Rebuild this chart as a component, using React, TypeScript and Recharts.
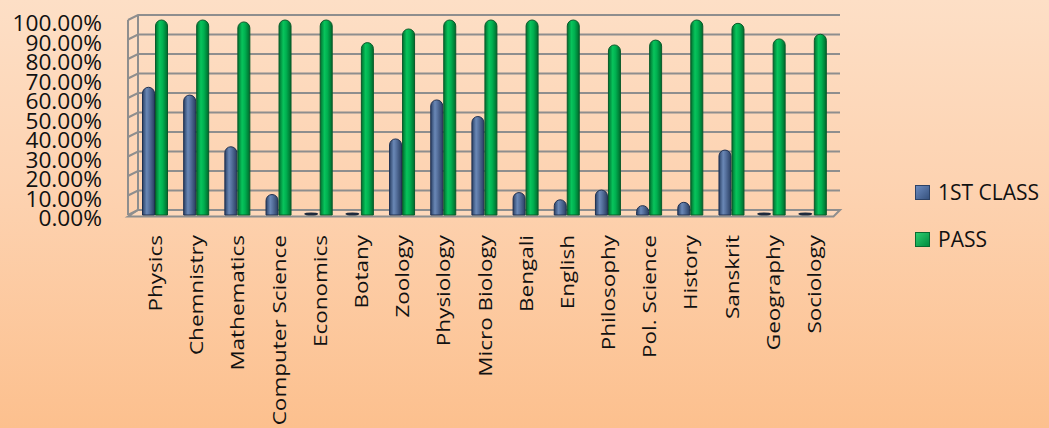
import React from 'react';
import { BarChart, Bar, XAxis, YAxis, CartesianGrid, Legend } from 'recharts';

const categories = ['Physics', 'Chemnistry', 'Mathematics', 'Computer Science', 'Economics', 'Botany', 'Zoology', 'Physiology', 'Micro Biology', 'Bengali', 'English', 'Philosophy', 'Pol. Science', 'History', 'Sanskrit', 'Geography', 'Sociology'];
const firstClass = [0.655, 0.615, 0.35, 0.105, 0, 0, 0.39, 0.59, 0.505, 0.115, 0.078, 0.128, 0.048, 0.065, 0.333, 0, 0];
const pass = [1.0, 1.0, 0.99, 1.0, 1.0, 0.884, 0.954, 1.0, 1.0, 1.0, 1.0, 0.872, 0.897, 1.0, 0.983, 0.903, 0.927];
const yTicks = [0, 0.1, 0.2, 0.3, 0.4, 0.5, 0.6, 0.7, 0.8, 0.9, 1.0];
const seriesNames = ['1ST CLASS', 'PASS'];

const data = categories.map((c, i) => ({ name: c, first: firstClass[i], pass: pass[i] }));

const W = 1049;
const H = 428;
const TOP = 20;
const BOTTOM = 215;
const LEFT = 134.5;
const RIGHT = 834.5;
const FONT = '"Open Sans", sans-serif';
const GRID = '#8e8e8e';

const Cylinder = (grad: string, stroke: string, zeroFill: string) => (props: any) => {
  const { x, y, width, height } = props;
  if (!(height > 0.8)) {
    return <ellipse cx={x + width / 2 - 2} cy={BOTTOM - 1} rx={width / 2 + 1} ry={1.6} fill={zeroFill} />;
  }
  const r = width / 2;
  const top = y;
  const h = height;
  const capH = Math.min(r, h);
  const d = `M${x},${top + capH} A${r},${capH} 0 0 1 ${x + width},${top + capH} L${x + width},${top + h} L${x},${top + h} Z`;
  return <path d={d} fill={`url(#${grad})`} stroke={stroke} strokeWidth={1} />;
};

const XTick = (props: any) => {
  const { x, payload } = props;
  return (
    <g transform={`translate(${x + 1},${235})`}>
      <text transform="rotate(-90) scale(1.25,1)" textAnchor="end" x={0} y={0} dy={6} fontFamily={FONT} fontSize={18} fill="#111">
        {payload.value}
      </text>
    </g>
  );
};

const YTick = (props: any) => {
  const { y, payload } = props;
  const v = (payload.value * 100).toFixed(2) + '%';
  return (
    <g transform={`translate(102,${y + 4})`}>
      <text transform="scale(1.08,1)" textAnchor="end" x={0} y={0} dy={7} fontFamily={FONT} fontSize={21} fill="#111">
        {v}
      </text>
    </g>
  );
};

const gridLine = (props: any) => {
  const { x1, x2, y1, index } = props;
  const yf = y1;
  const xl = x1 - 6.5;
  const xb = x1 + 3.5;
  const xr = x2 + 5.5;
  if (Math.abs(yf - BOTTOM) < 0.5) {
    return (
      <g key={`g-${index}`}>
        <path d={`M${xl},${BOTTOM} L${xb},${BOTTOM - 5} L${xb},${TOP - 5} M${xl},${BOTTOM} L${xl},${TOP}`} stroke={GRID} strokeWidth={2} fill="none" />
        <path d={`M${xl},${yf + 1.5} L${xb},${yf - 5} L${xr},${yf - 5} L${x2 - 1},${yf + 1.5} Z`} fill="rgba(255,255,255,0.18)" stroke={GRID} strokeWidth={2} />
      </g>
    );
  }
  return <path key={`g-${index}`} d={`M${xl},${yf} L${xb},${yf - 5} L${xr},${yf - 5}`} stroke={GRID} strokeWidth={2} fill="none" />;
};

const LegendContent = () => {
  const items = [
    { name: seriesNames[0], grad: 'legBlue', stroke: '#2c4266' },
    { name: seriesNames[1], grad: 'legGreen', stroke: '#0a6a30' },
  ];
  return (
    <div style={{ fontFamily: FONT, fontSize: 21, color: '#111' }}>
      {items.map((it, i) => (
        <div key={it.name} style={{ display: 'flex', alignItems: 'center', height: 24, marginBottom: i === 0 ? 23 : 0 }}>
          <svg width={15} height={15} style={{ marginRight: 8 }}>
            <rect x={0.5} y={0.5} width={14} height={14} fill={`url(#${it.grad})`} stroke={it.stroke} strokeWidth={1} />
          </svg>
          <span style={{ lineHeight: '24px' }}>{it.name}</span>
        </div>
      ))}
    </div>
  );
};

export default function App() {
  return (
    <div style={{ position: 'absolute', left: 0, top: 0, width: W, height: H, background: 'linear-gradient(180deg, #fddfc6 0%, #fdd2b0 45%, #fcc08e 100%)', overflow: 'hidden' }}>
      <svg width={0} height={0} style={{ position: 'absolute' }}>
        <defs>
          <linearGradient id="legBlue" x1="0" y1="0" x2="1" y2="1">
            <stop offset="0%" stopColor="#6d8cc0" />
            <stop offset="100%" stopColor="#34507c" />
          </linearGradient>
          <linearGradient id="legGreen" x1="0" y1="0" x2="1" y2="1">
            <stop offset="0%" stopColor="#2fd072" />
            <stop offset="100%" stopColor="#008a3c" />
          </linearGradient>
        </defs>
      </svg>
      <BarChart
        width={W}
        height={H}
        data={data}
        margin={{ top: TOP, right: W - RIGHT, left: 0, bottom: 13 }}
        barSize={12}
        barGap={1}
      >
        <defs>
          <linearGradient id="gBlue" x1="0" y1="0" x2="1" y2="0">
            <stop offset="0%" stopColor="#2b4166" />
            <stop offset="35%" stopColor="#6a88b6" />
            <stop offset="55%" stopColor="#5873a0" />
            <stop offset="100%" stopColor="#2a3f62" />
          </linearGradient>
          <linearGradient id="gGreen" x1="0" y1="0" x2="1" y2="0">
            <stop offset="0%" stopColor="#00702f" />
            <stop offset="35%" stopColor="#08c45c" />
            <stop offset="60%" stopColor="#00b050" />
            <stop offset="100%" stopColor="#006a2c" />
          </linearGradient>
        </defs>
        <CartesianGrid vertical={false} horizontal={gridLine} />
        <XAxis dataKey="name" interval={0} tickLine={false} axisLine={false} height={200} tick={<XTick />} />
        <YAxis domain={[0, 1]} ticks={yTicks} width={LEFT} tickLine={false} axisLine={false} tick={<YTick />} interval={0} />
        <Legend layout="horizontal" verticalAlign="middle" align="center" wrapperStyle={{ position: 'absolute', left: 915, top: 180, width: 140 }} content={<LegendContent />} />
        <Bar dataKey="first" name={seriesNames[0]} isAnimationActive={false} shape={Cylinder('gBlue', '#1f3050', '#1e2a3c')} />
        <Bar dataKey="pass" name={seriesNames[1]} isAnimationActive={false} shape={Cylinder('gGreen', '#0a5a2a', '#0a4a20')} />
      </BarChart>
    </div>
  );
}
